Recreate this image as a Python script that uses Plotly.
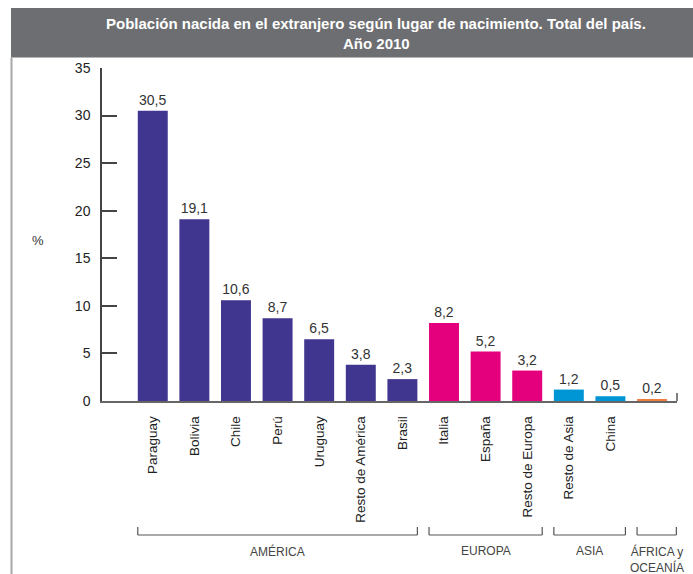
import plotly.graph_objects as go

categories = ["Paraguay", "Bolivia", "Chile", "Perú", "Uruguay", "Resto de América", "Brasil",
              "Italia", "España", "Resto de Europa", "Resto de Asia", "China", ""]
values = [30.5, 19.1, 10.6, 8.7, 6.5, 3.8, 2.3, 8.2, 5.2, 3.2, 1.2, 0.5, 0.2]
groups = ["AMÉRICA"] * 7 + ["EUROPA"] * 3 + ["ASIA"] * 2 + ["ÁFRICA y<br>OCEANÍA"]
group_colors = {"AMÉRICA": "#40358f", "EUROPA": "#e4007c", "ASIA": "#0096d6",
                "ÁFRICA y<br>OCEANÍA": "#ef7d3c"}
y_ticks = [0, 5, 10, 15, 20, 25, 30, 35]
title_line1 = "Población nacida en el extranjero según lugar de nacimiento. Total del país."
title_line2 = "Año 2010"

W, H = 693, 574
L, R, T, B = 102, 16, 68, 173
PW, PH = W - L - R, H - T - B
FONT = "Liberation Sans, Arial, sans-serif"


def px(xp):
    return (xp - L) / PW


def py(yp):
    return (H - B - yp) / PH


xs = list(range(len(categories)))
fig = go.Figure()
fig.add_trace(go.Bar(
    x=xs, y=values, width=0.72,
    marker=dict(color=[group_colors[g] for g in groups], line=dict(width=0)),
    text=[f"{v:.1f}".replace(".", ",") for v in values],
    textposition="outside", cliponaxis=False,
    textfont=dict(size=14, color="#333333", family=FONT),
    hoverinfo="skip",
))

shapes = []
# header band
shapes.append(dict(type="rect", xref="paper", yref="paper", x0=px(11), x1=px(700), y0=py(57.5), y1=py(8),
                   fillcolor="#6d6e71", line=dict(width=0), layer="below"))
# left border
shapes.append(dict(type="line", xref="paper", yref="paper", x0=px(11.5), x1=px(11.5), y0=py(57.5), y1=py(580),
                   line=dict(color="#a8a8a8", width=2)))
# right end tick of x axis
shapes.append(dict(type="line", xref="paper", yref="paper", x0=1, x1=1, y0=0, y1=py(393),
                   line=dict(color="#555555", width=1.5)))

# group brackets
group_order = ["AMÉRICA", "EUROPA", "ASIA", "ÁFRICA y<br>OCEANÍA"]
annotations = []
yb, yt = py(535), py(527)
for g in group_order:
    idx = [i for i, gg in enumerate(groups) if gg == g]
    x0 = idx[0] - 0.36
    last = g == group_order[-1]
    if last:
        x1 = x0 + (677 - 637.7) / 41.6
    else:
        x1 = idx[-1] + 0.36
    for xv in (x0, x1):
        shapes.append(dict(type="line", xref="x", yref="paper", x0=xv, x1=xv, y0=yb, y1=yt,
                           line=dict(color="#555555", width=1.2)))
    shapes.append(dict(type="line", xref="x", yref="paper", x0=x0, x1=x1, y0=yb, y1=yb,
                       line=dict(color="#555555", width=1.2)))
    cx = (x0 + x1) / 2
    annotations.append(dict(x=cx, xref="x", y=py(542), yref="paper", text=g, showarrow=False,
                            xanchor="center", yanchor="top",
                            font=dict(size=12, color="#444444", family=FONT)))

annotations.append(dict(x=px(376), y=py(23), xref="paper", yref="paper", text=f"<b>{title_line1}</b>",
                        showarrow=False, xanchor="center", yanchor="middle",
                        font=dict(size=15, color="white", family=FONT)))
annotations.append(dict(x=px(376), y=py(43), xref="paper", yref="paper", text=f"<b>{title_line2}</b>",
                        showarrow=False, xanchor="center", yanchor="middle",
                        font=dict(size=15, color="white", family=FONT)))
annotations.append(dict(x=px(38), y=py(240), xref="paper", yref="paper", text="%",
                        showarrow=False, xanchor="center", yanchor="middle",
                        font=dict(size=13, color="#333333", family=FONT)))

fig.update_layout(
    width=W, height=H, autosize=False,
    margin=dict(l=L, r=R, t=T, b=B, pad=0),
    paper_bgcolor="white", plot_bgcolor="white",
    showlegend=False, bargap=0.28,
    font=dict(family=FONT, color="#333333"),
    shapes=shapes, annotations=annotations,
    xaxis=dict(range=[-1.22, 12.6], tickmode="array", tickvals=xs, ticktext=categories,
               tickangle=-90, showline=True, linecolor="#666666", linewidth=1.5,
               showgrid=False, zeroline=False, ticks="", ticklabelstandoff=8,
               tickfont=dict(size=13.5, color="#222222")),
    yaxis=dict(range=[0, 35], tickvals=y_ticks, showline=True, linecolor="#444444", linewidth=1.5,
               ticks="inside", ticklen=15, tickwidth=1.5, tickcolor="#444444",
               showgrid=False, zeroline=False, ticklabelstandoff=7,
               tickfont=dict(size=14, color="#222222")),
)

fig.write_html("out.html")
